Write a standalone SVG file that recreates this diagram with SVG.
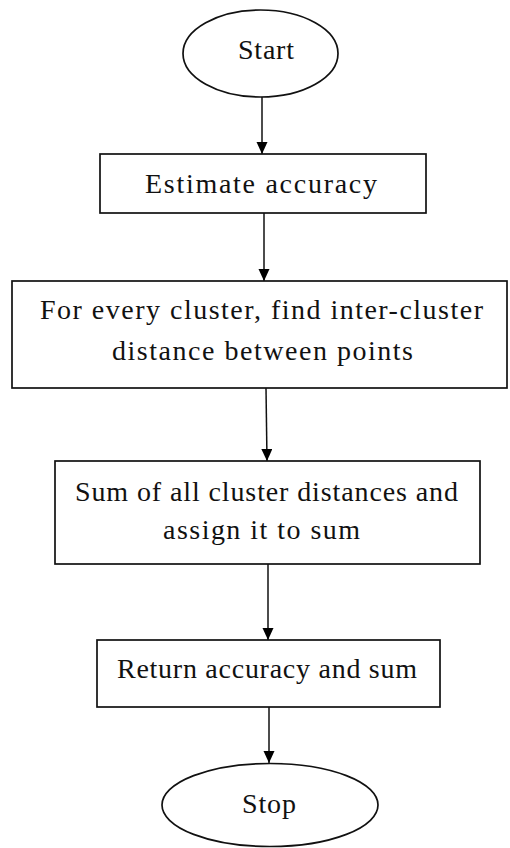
<svg xmlns="http://www.w3.org/2000/svg" width="510" height="848" viewBox="0 0 510 848">
  <style>
    .shape { fill: #ffffff; stroke: #111111; stroke-width: 1.7; }
    .label { font-family: "Liberation Serif", "Times New Roman", serif; font-size: 28px; fill: #111111; text-anchor: middle; }
    .flow { stroke: #111111; stroke-width: 1.5; fill: none; marker-end: url(#arrow); }
  </style>
  <defs>
    <marker id="arrow" markerWidth="12" markerHeight="12" refX="12" refY="5.5" orient="auto" markerUnits="userSpaceOnUse">
      <path d="M0,0 L12,5.5 L0,11 Z" fill="#000000"/>
    </marker>
  </defs>

  <rect width="510" height="848" fill="#ffffff"/>

  <!-- connectors -->
  <g id="connectors">
    <line class="flow" x1="262" y1="97" x2="262" y2="154"/>
    <line class="flow" x1="264" y1="213" x2="264" y2="281"/>
    <line class="flow" x1="266" y1="388" x2="267" y2="461"/>
    <line class="flow" x1="268" y1="564" x2="268" y2="640"/>
    <line class="flow" x1="269" y1="707" x2="269" y2="763"/>
  </g>

  <g id="start">
    <ellipse class="shape" cx="260.5" cy="53.5" rx="77.5" ry="43.5"/>
    <text class="label" x="266" y="59" textLength="56" lengthAdjust="spacing">Start</text>
  </g>

  <g id="estimate-accuracy">
    <rect class="shape" x="100" y="154" width="326" height="59"/>
    <text class="label" x="261" y="193" textLength="232" lengthAdjust="spacing">Estimate accuracy</text>
  </g>

  <g id="inter-cluster-distance">
    <rect class="shape" x="12" y="281" width="495" height="107"/>
    <text class="label" x="261.5" y="319" textLength="443" lengthAdjust="spacing">For every cluster, find inter-cluster</text>
    <text class="label" x="262.5" y="360" textLength="301" lengthAdjust="spacing">distance between points</text>
  </g>

  <g id="sum-distances">
    <rect class="shape" x="55" y="461" width="425" height="103"/>
    <text class="label" x="266.5" y="501" textLength="383" lengthAdjust="spacing">Sum of all cluster distances and</text>
    <text class="label" x="261.5" y="539" textLength="197" lengthAdjust="spacing">assign it to sum</text>
  </g>

  <g id="return-result">
    <rect class="shape" x="97" y="640" width="343" height="67"/>
    <text class="label" x="267" y="678" textLength="300" lengthAdjust="spacing">Return accuracy and sum</text>
  </g>

  <g id="stop">
    <ellipse class="shape" cx="270" cy="805" rx="108" ry="41.5"/>
    <text class="label" x="269" y="813" textLength="54" lengthAdjust="spacing">Stop</text>
  </g>
</svg>
